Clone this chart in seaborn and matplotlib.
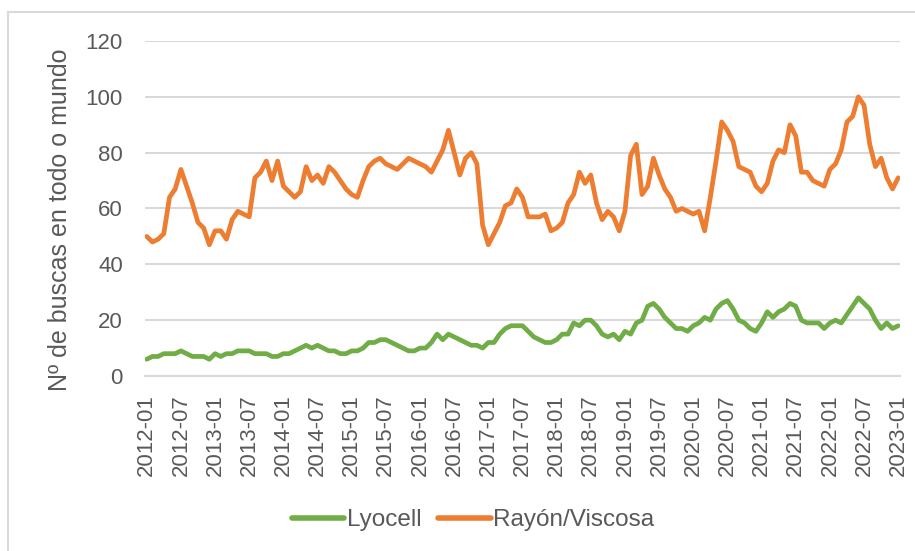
import numpy as np
import pandas as pd
import matplotlib
matplotlib.use("Agg")
import matplotlib.pyplot as plt
import seaborn as sns

# monthly searches, 2012-01 .. 2023-01
months = pd.period_range("2012-01", "2023-01", freq="M").strftime("%Y-%m").tolist()

lyocell = [
    6, 7, 7, 8, 8, 8, 9, 8, 7, 7, 7, 6,
    8, 7, 8, 8, 9, 9, 9, 8, 8, 8, 7, 7,
    8, 8, 9, 10, 11, 10, 11, 10, 9, 9, 8, 8,
    9, 9, 10, 12, 12, 13, 13, 12, 11, 10, 9, 9,
    10, 10, 12, 15, 13, 15, 14, 13, 12, 11, 11, 10,
    12, 12, 15, 17, 18, 18, 18, 16, 14, 13, 12, 12,
    13, 15, 15, 19, 18, 20, 20, 18, 15, 14, 15, 13,
    16, 15, 19, 20, 25, 26, 24, 21, 19, 17, 17, 16,
    18, 19, 21, 20, 24, 26, 27, 24, 20, 19, 17, 16,
    19, 23, 21, 23, 24, 26, 25, 20, 19, 19, 19, 17,
    19, 20, 19, 22, 25, 28, 26, 24, 20, 17, 19, 17,
    18,
]

rayon = [
    50, 48, 49, 51, 64, 67, 74, 68, 62, 55, 53, 47,
    52, 52, 49, 56, 59, 58, 57, 71, 73, 77, 70, 77,
    68, 66, 64, 66, 75, 70, 72, 69, 75, 73, 70, 67,
    65, 64, 70, 75, 77, 78, 76, 75, 74, 76, 78, 77,
    76, 75, 73, 77, 81, 88, 80, 72, 78, 80, 76, 54,
    47, 51, 55, 61, 62, 67, 64, 57, 57, 57, 58, 52,
    53, 55, 62, 65, 73, 69, 72, 62, 56, 59, 57, 52,
    59, 79, 83, 65, 68, 78, 72, 67, 64, 59, 60, 59,
    58, 59, 52, 64, 77, 91, 88, 84, 75, 74, 73, 68,
    66, 69, 77, 81, 80, 90, 86, 73, 73, 70, 69, 68,
    74, 76, 81, 91, 93, 100, 97, 83, 75, 78, 71, 67,
    71,
]

series_names = ["Lyocell", "Rayón/Viscosa"]
colors = {"Lyocell": "#70AD47", "Rayón/Viscosa": "#ED7D31"}

df = pd.DataFrame({
    "pos": list(range(len(months))) * 2,
    "value": lyocell + rayon,
    "serie": [series_names[0]] * len(months) + [series_names[1]] * len(months),
})

sns.set_theme(style="white")
plt.rcParams["font.family"] = ["Liberation Sans", "DejaVu Sans"]

fig = plt.figure(figsize=(9.15, 5.51), dpi=100)
ax = fig.add_axes([0.1585, 0.3176, 0.825, 0.608])

sns.lineplot(
    data=df,
    x="pos",
    y="value",
    hue="serie",
    hue_order=series_names,
    palette=colors,
    linewidth=3.4,
    ax=ax,
)

# outer chart frame
fig.patches.append(plt.Rectangle(
    (0.0087, -0.05), 1.1, 1.028,
    transform=fig.transFigure, fill=False,
    edgecolor="#D9D9D9", linewidth=1.5,
))

ax.set_ylim(0, 120)
ax.set_yticks(range(0, 121, 20))
ax.set_xlim(-0.3, len(months) - 0.7)
tick_pos = list(range(0, len(months), 6))
ax.set_xticks(tick_pos)
ax.set_xticklabels([months[i] for i in tick_pos], rotation=90)

ax.grid(axis="y", color="#D9D9D9", linewidth=1.5)
ax.set_axisbelow(True)
for s in ["top", "right", "left"]:
    ax.spines[s].set_visible(False)
ax.spines["bottom"].set_color("#D9D9D9")
ax.spines["bottom"].set_linewidth(1.5)

ax.tick_params(axis="y", length=0, pad=16, labelsize=16, labelcolor="#595959")
ax.tick_params(axis="x", length=0, pad=13, labelsize=16, labelcolor="#595959")

ax.set_xlabel("")
ax.set_ylabel("Nº de buscas en todo o mundo", fontsize=18, color="#595959")
ax.yaxis.set_label_coords(-0.097, 0.466)

leg = ax.legend(
    loc="center",
    bbox_to_anchor=(473 / 915, 1 - 520 / 551),
    bbox_transform=fig.transFigure,
    ncol=2,
    frameon=False,
    fontsize=17.5,
    labelcolor="#595959",
    handlelength=2.15,
    handletextpad=0.1,
    columnspacing=0.7,
)
for line in leg.get_lines():
    line.set_linewidth(4)

fig.savefig("out.png", dpi=100)
